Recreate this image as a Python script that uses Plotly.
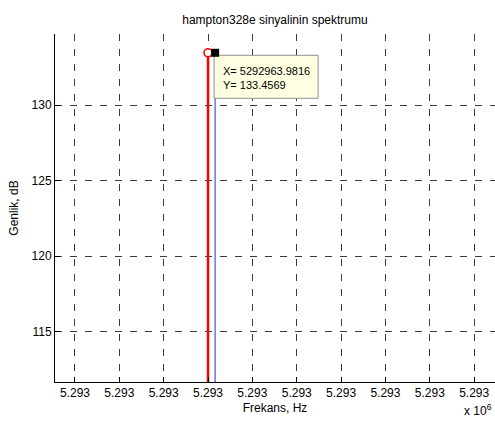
import plotly.graph_objects as go

# ---- data ----
peak_freq = [5292963.98, 5292963.98]
peak_db = [0.0, 133.4569]
cursor_freq = [5292963.9816, 5292963.9816]
cursor_db = [0.0, 133.4569]

x_tick_vals = [5292963.95, 5292963.96, 5292963.97, 5292963.98, 5292963.99,
               5292964.00, 5292964.01, 5292964.02, 5292964.03, 5292964.04]
x_tick_text = ["5.293", "5.293", "5.293", "5.293", "5.293",
               "5.293", "5.293", "5.293", "5.293", "5.293"]
y_tick_vals = [115, 120, 125, 130]
x_range = [5292963.9455, 5292964.0447]
y_range = [111.68, 134.70]

tip_x = cursor_freq[1]
tip_y = cursor_db[1]

FONT = "Liberation Sans, Arial, Helvetica, sans-serif"

fig = go.Figure()
fig.add_trace(go.Scatter(x=peak_freq, y=peak_db, mode="lines",
                         line=dict(color="#FF0000", width=2.5),
                         showlegend=False, hoverinfo="skip"))
fig.add_trace(go.Scatter(x=cursor_freq, y=cursor_db, mode="lines",
                         line=dict(color="#2233CC", width=1),
                         showlegend=False, hoverinfo="skip"))
fig.add_trace(go.Scatter(x=[peak_freq[1]], y=[peak_db[1]], mode="markers",
                         marker=dict(symbol="circle", size=8,
                                     color="white", line=dict(width=1.6, color="#FF0000")),
                         showlegend=False, hoverinfo="skip", cliponaxis=False))

# data tip box and cursor square (pixel-sized, anchored on the data point)
fig.add_shape(type="rect", xref="x", yref="y", xsizemode="pixel", ysizemode="pixel",
              xanchor=tip_x, yanchor=tip_y, x0=-1, x1=103, y0=-2.5, y1=-45.5,
              fillcolor="#FFFFE1", line=dict(color="#8F8F8F", width=1), layer="above")
fig.add_shape(type="rect", xref="x", yref="y", xsizemode="pixel", ysizemode="pixel",
              xanchor=tip_x, yanchor=tip_y, x0=-4, x1=4, y0=-4, y1=4,
              fillcolor="#000000", line=dict(color="#000000", width=0), layer="above")
fig.add_annotation(x=tip_x, y=tip_y, xref="x", yref="y", showarrow=False,
                   xanchor="left", yanchor="top", xshift=6, yshift=-10, align="left",
                   text=f"X= {tip_x:.4f}<br>Y= {tip_y:.4f}",
                   font=dict(family=FONT, size=11, color="#000000"))

# exponent label
fig.add_annotation(x=1.0, y=0, xref="paper", yref="paper", showarrow=False,
                   xanchor="right", yanchor="bottom", xshift=-1, yshift=-38,
                   text="x 10<sup>6</sup>",
                   font=dict(family=FONT, size=12, color="#000000"))

grid = dict(showgrid=True, gridcolor="#3A3A3A", gridwidth=1, griddash="7px,8px")

fig.update_layout(
    width=495, height=422,
    margin=dict(l=55, r=0, t=34, b=40),
    paper_bgcolor="white", plot_bgcolor="white",
    font=dict(family=FONT, size=12, color="#000000"),
    title=dict(text="hampton328e sinyalinin spektrumu", x=0.5, xref="paper",
               xanchor="center", y=1 - 20 / 422, yanchor="middle",
               font=dict(family=FONT, size=12, color="#000000")),
    xaxis=dict(range=x_range, tickmode="array", tickvals=x_tick_vals, ticktext=x_tick_text,
               ticks="inside", ticklen=5, tickcolor="#000000", tickwidth=1,
               showline=True, linecolor="#000000", linewidth=1, mirror=False,
               zeroline=False, tickfont=dict(size=12),
               title=dict(text="Frekans, Hz", standoff=4, font=dict(size=12)),
               **grid),
    yaxis=dict(range=y_range, tickmode="array", tickvals=y_tick_vals,
               ticks="inside", ticklen=5, tickcolor="#000000", tickwidth=1,
               showline=True, linecolor="#000000", linewidth=1, mirror=False,
               zeroline=False, tickfont=dict(size=12), ticklabelstandoff=0,
               title=dict(text="Genlik, dB", standoff=10, font=dict(size=12)),
               **grid),
)

fig.write_html("out.html")
